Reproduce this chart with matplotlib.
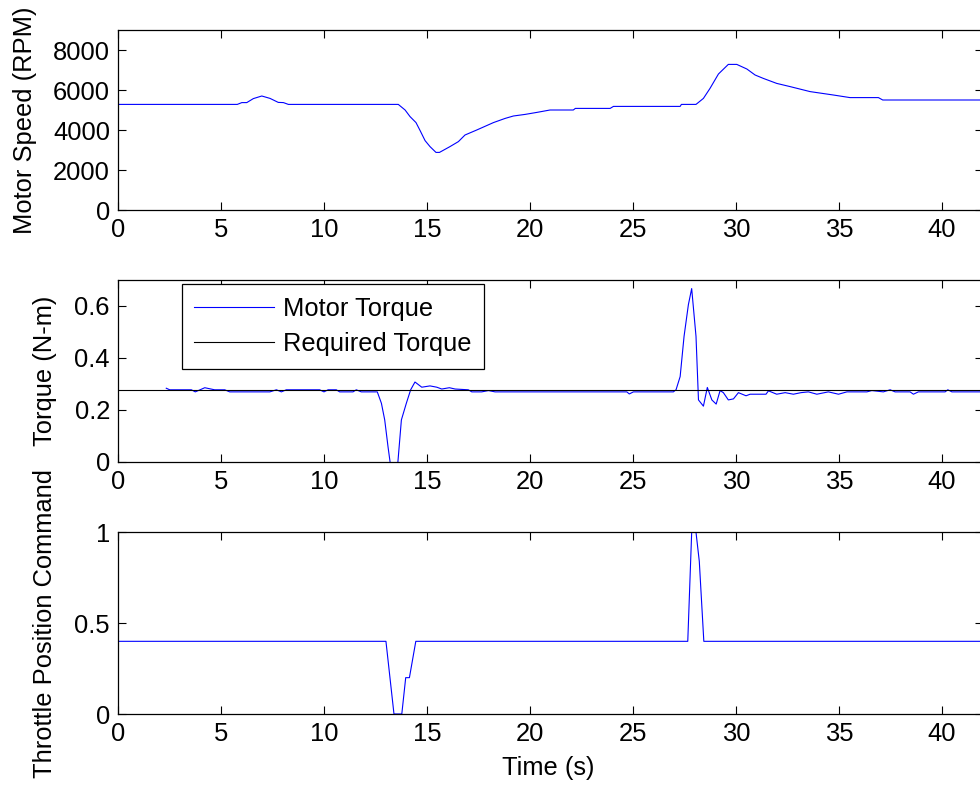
import matplotlib
matplotlib.use('Agg')
import matplotlib.pyplot as plt

plt.rcParams['font.family'] = ['Liberation Sans', 'DejaVu Sans']
plt.rcParams['font.size'] = 18.4

# motor speed (RPM)
speed_t = [0, 5.78, 6.0, 6.24, 6.56, 6.97, 7.37, 7.77, 8.02, 8.26, 13.6, 13.93, 14.17,
           14.46, 14.66, 14.9, 15.14, 15.43, 15.6, 16.11, 16.52, 16.84, 17.41, 18.22,
           18.79, 19.19, 19.76, 20.33, 20.97, 22.1, 22.2, 23.89, 24.05, 27.29, 27.35,
           28.06, 28.42, 28.74, 29.15, 29.63, 30.04, 30.53, 30.93, 31.33, 31.98, 32.63,
           33.6, 34.73, 35.54, 36.92, 37.13, 42]
speed_rpm = [5280, 5280, 5370, 5370, 5570, 5700, 5580, 5380, 5370, 5280, 5280, 5000, 4670,
             4370, 3970, 3470, 3170, 2880, 2880, 3170, 3420, 3750, 4000, 4370,
             4580, 4700, 4780, 4880, 5000, 5000, 5080, 5080, 5180, 5180, 5280,
             5280, 5580, 6080, 6800, 7280, 7280, 7050, 6750, 6580, 6330, 6170,
             5920, 5750, 5620, 5620, 5500, 5500]

# motor torque (N-m)
torque_t = [2.33, 2.5, 3.55, 3.74, 4.2, 4.68, 5.17, 5.41, 7.36, 7.68, 7.92, 8.16, 9.78,
            9.99, 10.19, 10.59, 10.75, 11.4, 11.56, 11.8, 12.58, 12.78, 12.94, 13.1,
            13.25, 13.55, 13.75, 13.99, 14.2, 14.41, 14.74, 15.14, 15.47, 15.71, 16.08,
            16.36, 17.0, 17.17, 17.65, 17.98, 18.3, 24.7, 24.82, 25.02, 26.96, 27.09,
            27.29, 27.48, 27.69, 27.85, 28.06, 28.18, 28.42, 28.61, 28.83, 29.04, 29.23,
            29.39, 29.63, 29.88, 30.12, 30.49, 30.69, 31.46, 31.58, 31.98, 32.39, 32.79,
            33.16, 33.52, 33.93, 34.49, 34.98, 35.39, 36.36, 36.6, 37.16, 37.49, 37.73,
            38.46, 38.62, 38.86, 40.16, 40.29, 40.49, 42]
torque_val = [0.283, 0.277, 0.277, 0.269, 0.285, 0.277, 0.277, 0.269, 0.269, 0.277, 0.269, 0.277, 0.277,
              0.269, 0.277, 0.277, 0.269, 0.269, 0.277, 0.269, 0.269, 0.225, 0.161, 0.058,
              -0.03, -0.03, 0.161, 0.225, 0.277, 0.307, 0.287, 0.292, 0.287, 0.280, 0.285,
              0.280, 0.277, 0.269, 0.269, 0.274, 0.269, 0.269, 0.261, 0.269, 0.269, 0.277,
              0.328, 0.483, 0.605, 0.667, 0.483, 0.238, 0.214, 0.286, 0.238, 0.222, 0.274,
              0.266, 0.238, 0.242, 0.266, 0.254, 0.260, 0.260, 0.273, 0.260, 0.266, 0.260,
              0.266, 0.269, 0.260, 0.269, 0.260, 0.269, 0.269, 0.274, 0.269, 0.277, 0.269,
              0.269, 0.260, 0.269, 0.269, 0.277, 0.269, 0.269]

required_t = [0, 42]
required_val = [0.277, 0.277]

# throttle position command
throttle_t = [0, 13.0, 13.39, 13.77, 13.96, 14.14, 14.45, 27.66, 27.85, 28.06, 28.22, 28.44, 42]
throttle_val = [0.4, 0.4, 0, 0, 0.2, 0.2, 0.4, 0.4, 1.0, 1.0, 0.84, 0.4, 0.4]

x_ticks = [0, 5, 10, 15, 20, 25, 30, 35, 40]
speed_ticks = [0, 2000, 4000, 6000, 8000]
torque_ticks = [0, 0.2, 0.4, 0.6]
torque_labels = ['0', '0.2', '0.4', '0.6']
throttle_ticks = [0, 0.5, 1]
throttle_labels = ['0', '0.5', '1']

fig = plt.figure(figsize=(9.8, 7.85), dpi=100)
W, H = 980, 785
left = 118.3 / W
width = (983 - 118.3) / W
ax1 = fig.add_axes([left, 1 - 210 / H, width, 180 / H])
ax2 = fig.add_axes([left, 1 - 461.7 / H, width, 181.7 / H])
ax3 = fig.add_axes([left, 1 - 714 / H, width, 181.7 / H])

ax1.plot(speed_t, speed_rpm, color='#0000ff', lw=0.8)
ax1.set_ylim(0, 9000)
ax1.set_yticks(speed_ticks)
ax1.set_ylabel('Motor Speed (RPM)', va='center')
ax1.yaxis.set_label_coords(-0.108, 0.5)

ax2.plot(torque_t, torque_val, color='#0000ff', lw=0.8, label='Motor Torque')
ax2.plot(required_t, required_val, color='black', lw=0.8, label='Required Torque')
ax2.set_ylim(0, 0.7)
ax2.set_yticks(torque_ticks)
ax2.set_yticklabels(torque_labels)
ax2.set_ylabel('Torque (N-m)', va='center')
ax2.yaxis.set_label_coords(-0.085, 0.5)
leg = ax2.legend(loc='upper left', bbox_to_anchor=(0.0733, 0.978), borderaxespad=0,
                 fancybox=False, framealpha=1, edgecolor='black', handlelength=3.1,
                 handletextpad=0.35, borderpad=0.5, labelspacing=0.45)
leg.get_frame().set_linewidth(0.9)

ax3.plot(throttle_t, throttle_val, color='#0000ff', lw=0.8)
ax3.set_ylim(0, 1)
ax3.set_yticks(throttle_ticks)
ax3.set_yticklabels(throttle_labels)
ax3.set_ylabel('Throttle Position Command', va='center')
ax3.yaxis.set_label_coords(-0.085, 0.5)
ax3.set_xlabel('Time (s)', va='top')
ax3.xaxis.set_label_coords(0.497, -0.231)

for ax in (ax1, ax2, ax3):
    ax.set_xlim(0, 42)
    ax.set_xticks(x_ticks)
    ax.tick_params(direction='in', top=True, right=True, length=6, width=0.8, pad=6)
    for s in ax.spines.values():
        s.set_linewidth(0.9)

fig.savefig('out.png', dpi=100)
